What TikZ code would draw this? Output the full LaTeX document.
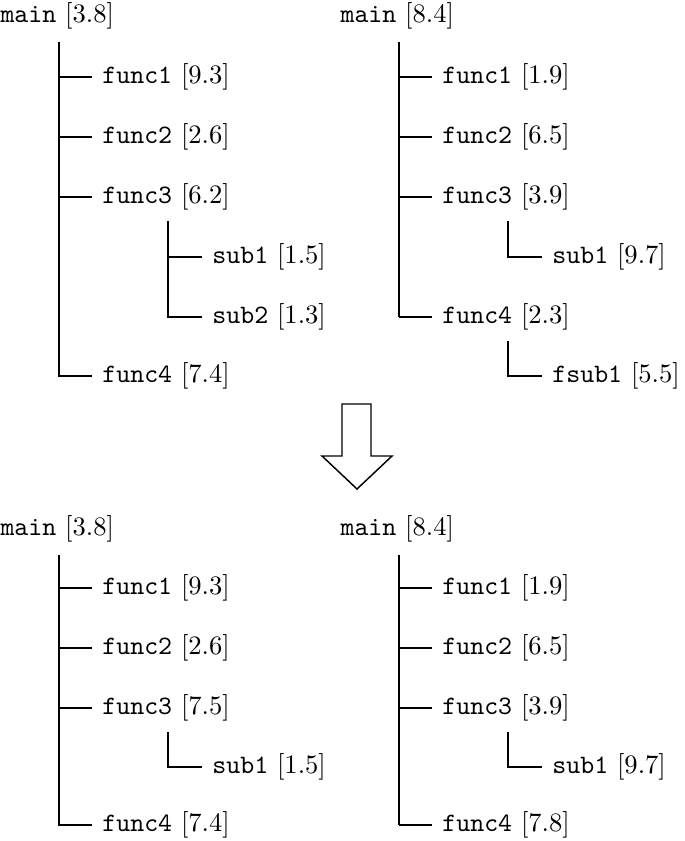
\documentclass[tikz,border=0pt]{standalone}
\begin{document}
\begin{tikzpicture}[x=0.376pt,y=-0.376pt,
  conn/.style={line width=0.5pt},
  trunk/.style={line width=0.5pt},
  thicktrunk/.style={line width=0.8pt},
  rootlbl/.style={anchor=west,inner sep=0pt},
  lbl/.style={anchor=west,inner xsep=3.7pt,inner ysep=0pt},
  bigarrow/.style={line width=0.55pt,fill=white}]
\useasboundingbox (0,0) rectangle (685,841);

% ---------- top-left tree ----------
\node[rootlbl] (a0) at (0,16) {\texttt{main} [3.8]};
\node[lbl] (a1) at (92,77) {\texttt{func1} [9.3]};
\node[lbl] (a2) at (92,137) {\texttt{func2} [2.6]};
\node[lbl] (a3) at (92,197) {\texttt{func3} [6.2]};
\node[lbl] (a31) at (202,257) {\texttt{sub1} [1.5]};
\node[lbl] (a32) at (202,317) {\texttt{sub2} [1.3]};
\node[lbl] (a4) at (92,376) {\texttt{func4} [7.4]};
\coordinate (av) at (59,42);
\coordinate (a3v) at (168,221);
\draw[trunk] (av) |- (a4.west);
\draw[conn] (av |- a1.west) -- (a1.west);
\draw[conn] (av |- a2.west) -- (a2.west);
\draw[conn] (av |- a3.west) -- (a3.west);
\draw[trunk] (a3v) |- (a32.west);
\draw[conn] (a3v |- a31.west) -- (a31.west);

% ---------- top-right tree ----------
\node[rootlbl] (b0) at (340,16) {\texttt{main} [8.4]};
\node[lbl] (b1) at (432,77) {\texttt{func1} [1.9]};
\node[lbl] (b2) at (432,137) {\texttt{func2} [6.5]};
\node[lbl] (b3) at (432,197) {\texttt{func3} [3.9]};
\node[lbl] (b31) at (542,257) {\texttt{sub1} [9.7]};
\node[lbl] (b4) at (432,317) {\texttt{func4} [2.3]};
\node[lbl] (b41) at (542,376) {\texttt{fsub1} [5.5]};
\coordinate (bv) at (399,42);
\coordinate (b3v) at (508,221);
\coordinate (b4v) at (508,341);
\draw[thicktrunk] (bv) -- (bv |- b4.west);
\draw[conn] (bv |- b4.west) -- (b4.west);
\draw[conn] (bv |- b1.west) -- (b1.west);
\draw[conn] (bv |- b2.west) -- (b2.west);
\draw[conn] (bv |- b3.west) -- (b3.west);
\draw[trunk] (b3v) |- (b31.west);
\draw[trunk] (b4v) |- (b41.west);

% ---------- arrow ----------
\draw[bigarrow] (342,404) -- (371,404) -- (371,456) -- (392,456) -- (357,489)
  -- (322,456) -- (342,456) -- cycle;

% ---------- bottom-left tree ----------
\node[rootlbl] (c0) at (0,529) {\texttt{main} [3.8]};
\node[lbl] (c1) at (92,588) {\texttt{func1} [9.3]};
\node[lbl] (c2) at (92,648) {\texttt{func2} [2.6]};
\node[lbl] (c3) at (92,708) {\texttt{func3} [7.5]};
\node[lbl] (c31) at (202,767) {\texttt{sub1} [1.5]};
\node[lbl] (c4) at (92,825) {\texttt{func4} [7.4]};
\coordinate (cv) at (59,555);
\coordinate (c3v) at (168,732);
\draw[trunk] (cv) |- (c4.west);
\draw[conn] (cv |- c1.west) -- (c1.west);
\draw[conn] (cv |- c2.west) -- (c2.west);
\draw[conn] (cv |- c3.west) -- (c3.west);
\draw[trunk] (c3v) |- (c31.west);

% ---------- bottom-right tree ----------
\node[rootlbl] (d0) at (340,529) {\texttt{main} [8.4]};
\node[lbl] (d1) at (432,588) {\texttt{func1} [1.9]};
\node[lbl] (d2) at (432,648) {\texttt{func2} [6.5]};
\node[lbl] (d3) at (432,708) {\texttt{func3} [3.9]};
\node[lbl] (d31) at (542,767) {\texttt{sub1} [9.7]};
\node[lbl] (d4) at (432,825) {\texttt{func4} [7.8]};
\coordinate (dv) at (399,555);
\coordinate (d3v) at (508,732);
\draw[thicktrunk] (dv) -- (dv |- d4.west);
\draw[conn] (dv |- d4.west) -- (d4.west);
\draw[conn] (dv |- d1.west) -- (d1.west);
\draw[conn] (dv |- d2.west) -- (d2.west);
\draw[conn] (dv |- d3.west) -- (d3.west);
\draw[trunk] (d3v) |- (d31.west);
\end{tikzpicture}
\end{document}
